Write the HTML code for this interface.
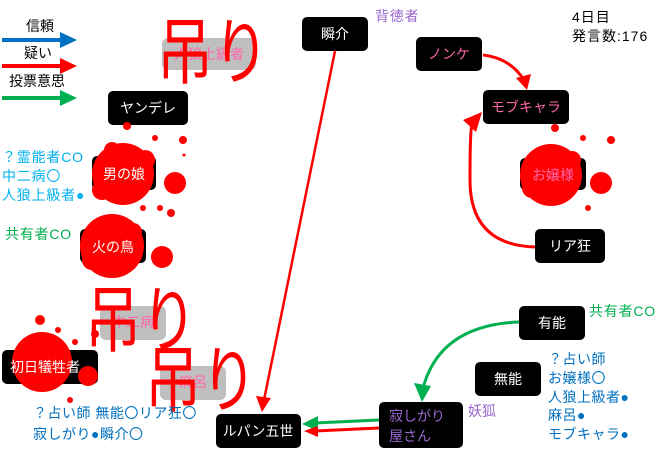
<!DOCTYPE html>
<html><head><meta charset="utf-8"><style>
html,body{margin:0;padding:0;background:#fff;}
svg{display:block;font-family:"Liberation Sans","Noto Sans CJK JP",sans-serif;}
</style></head><body>
<svg width="660" height="452" viewBox="0 0 660 452" xmlns="http://www.w3.org/2000/svg">
<!-- legend -->
<g font-size="14" fill="#000">
<text x="26" y="31">信頼</text>
<text x="24" y="58">疑い</text>
<text x="9" y="86">投票意思</text>
</g>
<line x1="2" y1="40" x2="60" y2="40" stroke="#0070c0" stroke-width="4"/><path d="M60,32 L77,40 L60,48Z" fill="#0070c0"/>
<line x1="2" y1="66" x2="60" y2="66" stroke="#f00" stroke-width="4"/><path d="M60,58 L77,66 L60,74Z" fill="#f00"/>
<line x1="2" y1="98" x2="60" y2="98" stroke="#00b050" stroke-width="4"/><path d="M60,90 L77,98 L60,106Z" fill="#00b050"/>

<!-- gray hanged boxes -->
<rect x="162" y="38" width="94" height="32" rx="6" fill="#bfbfbf"/>
<text x="209" y="59" font-size="14" fill="#ff66aa" text-anchor="middle">人狼上級者</text>
<rect x="100" y="306" width="66" height="34" rx="6" fill="#bfbfbf"/>
<text x="133" y="327" font-size="14" fill="#ff66aa" text-anchor="middle">中二病</text>
<rect x="160" y="366" width="66" height="34" rx="6" fill="#bfbfbf"/>
<text x="193" y="387" font-size="14" fill="#ff66aa" text-anchor="middle">麻呂</text>

<!-- black nodes -->
<g fill="#000">
<rect x="108" y="91" width="80" height="34" rx="5"/>
<rect x="92" y="156" width="64" height="34" rx="5"/>
<rect x="80" y="229" width="66" height="34" rx="5"/>
<rect x="2" y="350" width="96" height="34" rx="5"/>
<rect x="216" y="414" width="85" height="34" rx="5"/>
<rect x="302" y="17" width="66" height="34" rx="5"/>
<rect x="416" y="37" width="66" height="34" rx="5"/>
<rect x="483" y="90" width="86" height="34" rx="5"/>
<rect x="520" y="158" width="66" height="32" rx="5"/>
<rect x="535" y="229" width="70" height="34" rx="5"/>
<rect x="519" y="306" width="66" height="34" rx="5"/>
<rect x="475" y="362" width="66" height="34" rx="5"/>
<rect x="379" y="402" width="84" height="46" rx="5"/>
</g>

<!-- splats -->
<g fill="#f00">
<circle cx="123" cy="174" r="31"/><circle cx="112" cy="150" r="8"/><circle cx="102" cy="190" r="10"/><circle cx="145" cy="160" r="10"/>
<circle cx="175" cy="183" r="11"/><circle cx="127" cy="126" r="4"/><circle cx="155" cy="138" r="3"/><circle cx="183" cy="140" r="4"/>
<circle cx="143" cy="208" r="3"/><circle cx="160" cy="208" r="3"/><circle cx="171" cy="213" r="4"/><circle cx="184" cy="155" r="1.5"/>
<circle cx="112" cy="246" r="32"/><circle cx="162" cy="257" r="11"/><circle cx="92" cy="260" r="10"/><circle cx="133" cy="232" r="9"/>
<circle cx="42" cy="362" r="30"/><circle cx="88" cy="376" r="10"/><circle cx="40" cy="320" r="5"/><circle cx="58" cy="330" r="3"/><circle cx="75" cy="342" r="3"/><circle cx="70" cy="400" r="3"/><circle cx="95" cy="334" r="4"/>
<circle cx="551" cy="175" r="31"/><circle cx="601" cy="183" r="11"/><circle cx="532" cy="188" r="10"/><circle cx="572" cy="160" r="9"/>
<circle cx="555" cy="128" r="4"/><circle cx="583" cy="138" r="3"/><circle cx="611" cy="140" r="4"/><circle cx="588" cy="208" r="3"/>
</g>

<!-- node labels -->
<g font-size="14" fill="#fff" text-anchor="middle">
<text x="148" y="113">ヤンデレ</text>
<text x="124" y="179">男の娘</text>
<text x="113" y="252">火の鳥</text>
<text x="45" y="372">初日犠牲者</text>
<text x="258" y="436">ルパン五世</text>
<text x="335" y="39">瞬介</text>
<text x="570" y="251">リア狂</text>
<text x="552" y="328">有能</text>
<text x="508" y="384">無能</text>
</g>
<g font-size="14" fill="#ff66aa" text-anchor="middle">
<text x="449" y="59">ノンケ</text>
<text x="526" y="112">モブキャラ</text>
<text x="553" y="180">お嬢様</text>
</g>
<text x="389" y="421" font-size="14" fill="#9966cc">寂しがり</text>
<text x="389" y="441" font-size="14" fill="#9966cc">屋さん</text>

<!-- big 吊り -->
<g font-size="56" fill="#f00">
<text transform="translate(157,78) scale(1,1.3)">吊り</text>
<text transform="translate(85,346) scale(1,1.3)">吊り</text>
<text transform="translate(145,406) scale(1,1.3)">吊り</text>
</g>

<!-- side texts -->
<g font-size="14" fill="#00b0f0" letter-spacing="0.8">
<text x="2" y="162">？霊能者CO</text>
<text x="2" y="181">中二病〇</text>
<text x="2" y="200">人狼上級者●</text>
</g>
<text x="5" y="239" font-size="14" fill="#00b050" letter-spacing="0.8">共有者CO</text>
<text x="589" y="316" font-size="14" fill="#00b050" letter-spacing="0.8">共有者CO</text>
<text x="375" y="21" font-size="14" fill="#9966cc" letter-spacing="0.8">背徳者</text>
<text x="468" y="416" font-size="14" fill="#9966cc">妖狐</text>
<g font-size="14" fill="#000" letter-spacing="1">
<text x="572" y="22">4日目</text>
<text x="572" y="41">発言数:176</text>
</g>
<g font-size="14" fill="#0070c0" letter-spacing="0.5">
<text x="33" y="418">？占い師 無能〇リア狂〇</text>
<text x="33" y="439">寂しがり●瞬介〇</text>
<text x="548" y="364">？占い師</text>
<text x="548" y="383">お嬢様〇</text>
<text x="548" y="402">人狼上級者●</text>
<text x="548" y="420">麻呂●</text>
<text x="548" y="439">モブキャラ●</text>
</g>

<!-- connectors -->
<line x1="335" y1="51" x2="264" y2="400" stroke="#f00" stroke-width="2.5"/>
<path d="M256,396 L262,412 L271,398Z" fill="#f00"/>
<path d="M483,55 Q510,58 524,80" fill="none" stroke="#f00" stroke-width="3"/>
<path d="M516,78 L527,90 L531,74Z" fill="#f00"/>
<path d="M535,247 Q470,245 470,180 Q470,130 472,125" fill="none" stroke="#f00" stroke-width="3"/>
<path d="M463,120 L482,112 L476,132Z" fill="#f00"/>
<path d="M519,322 Q440,325 423,388" fill="none" stroke="#00b050" stroke-width="3"/>
<path d="M414,383 L422,402 L431,386Z" fill="#00b050"/>
<line x1="379" y1="420" x2="315" y2="423" stroke="#00b050" stroke-width="3"/>
<path d="M318,416 L302,424 L318,431Z" fill="#00b050"/>
<line x1="379" y1="428" x2="315" y2="431" stroke="#f00" stroke-width="3"/>
<path d="M318,426 L304,431 L318,437Z" fill="#f00"/>
</svg>
</body></html>
